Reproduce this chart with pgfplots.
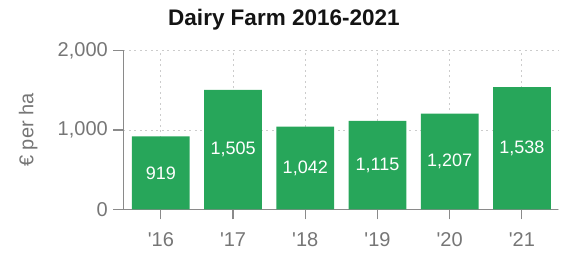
\documentclass[border=0pt]{standalone}
\usepackage{fontspec}
\setmainfont{Liberation Sans}
\usepackage{pgfplots}
\usepackage{pgfplotstable}
\pgfplotsset{compat=1.18}
\definecolor{barg}{HTML}{27A65A}
\definecolor{axg}{HTML}{8A8A8A}
\definecolor{txg}{HTML}{767676}
\definecolor{gridg}{HTML}{CCCCCC}
\pgfplotstableread{
x v
0 919
1 1505
2 1042
3 1115
4 1207
5 1538
}\data
\begin{document}
\begin{tikzpicture}
\path[use as bounding box] (-123.3pt,-43.5pt) rectangle (442.7pt,209.5pt);
\begin{axis}[
  at={(0,0)}, anchor=south west,
  width=434.7pt, height=159pt, scale only axis,
  xmin=-0.52, xmax=5.5, ymin=0, ymax=2000,
  axis x line*=bottom, axis y line*=left,
  axis line style={axg, line width=1.2pt, -},
  xtick={0,1,2,3,4,5},
  xticklabels={\textquotesingle16,\textquotesingle17,\textquotesingle18,\textquotesingle19,\textquotesingle20,\textquotesingle21},
  ytick={0,1000,2000},
  tick align=outside, major tick length=10pt,
  tick style={axg, line width=1.2pt},
  grid=major,
  major grid style={gridg, line width=0.9pt, dash pattern=on 2pt off 3.5pt},
  /pgf/number format/1000 sep={,},
  /pgf/number format/assume math mode=true,
  tick label style={font=\fontsize{20}{24}\selectfont, text=txg},
  yticklabel style={anchor=east, xshift=-2pt},
  xticklabel style={anchor=north, yshift=-10pt},
  ylabel={€ per ha},
  every axis y label/.style={at={([xshift=-95pt]axis description cs:0,0.5)}, rotate=90, anchor=center, font=\fontsize{20}{24}\selectfont, text=txg},
  title={Dairy Farm 2016-2021},
  title style={at={([xshift=-56.7pt,yshift=19pt]axis description cs:0.5,1)}, anchor=base, font=\bfseries\fontsize{22.5}{27}\selectfont, text=black!92},
]
\addplot[ybar, bar width=0.8, fill=barg, draw=none] table[x=x, y=v] {\data};
\addplot[draw=none, mark=none, nodes near coords, point meta=explicit,
  nodes near coords style={anchor=center, text=white, font=\fontsize{18}{22}\selectfont}]
  table[x=x, y expr=\thisrow{v}/2, meta=v] {\data};
\end{axis}
\end{tikzpicture}
\end{document}
